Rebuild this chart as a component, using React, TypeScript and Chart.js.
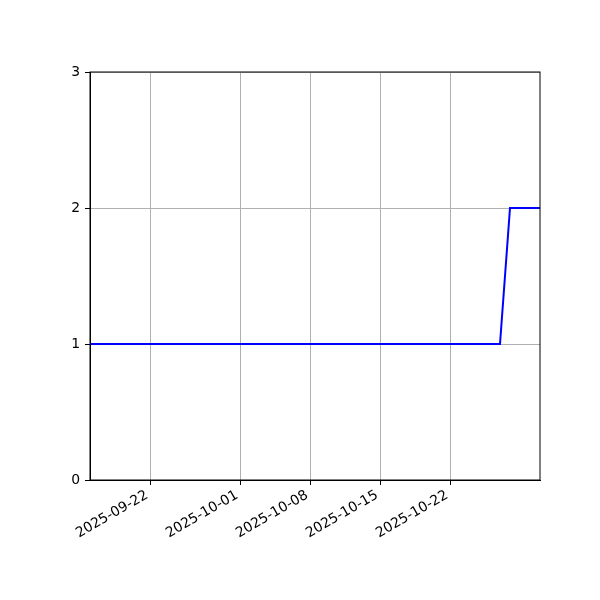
import { useEffect, useRef } from 'react'
import { Chart, registerables } from 'chart.js'

Chart.register(...registerables)

const dates = ['2025-09-16', '2025-10-27', '2025-10-28', '2025-10-31']
const values = [1, 1, 2, 2]
const tickDates = ['2025-09-22', '2025-10-01', '2025-10-08', '2025-10-15', '2025-10-22']
const yTicks = [0, 1, 2, 3]

const DAY = 86400000
const toDay = (s: string) => Date.parse(s + 'T00:00:00Z') / DAY
const fromDay = (d: number) => new Date(Math.round(d) * DAY).toISOString().slice(0, 10)

const frame = {
  id: 'frame',
  afterDraw(chart: Chart) {
    const { ctx, chartArea: a } = chart
    ctx.save()
    ctx.strokeStyle = '#000'
    ctx.lineWidth = 1
    ctx.strokeRect(a.left, a.top, a.right - a.left, a.bottom - a.top)
    ctx.restore()
  },
}

const App = () => {
  const canvas = useRef<HTMLCanvasElement>(null)

  useEffect(() => {
    document.body.style.margin = '0'
    if (!canvas.current) return
    const font = { family: 'DejaVu Sans', size: 13.9 }
    const chart = new Chart(canvas.current, {
      type: 'line',
      data: {
        datasets: [
          {
            data: dates.map((d, i) => ({ x: toDay(d), y: values[i] })),
            borderColor: '#0000ff',
            borderWidth: 2,
            pointRadius: 0,
            tension: 0,
          },
        ],
      },
      options: {
        responsive: false,
        animation: false,
        layout: { padding: { top: 72, right: 60, left: 0, bottom: 0 } },
        plugins: { legend: { display: false }, tooltip: { enabled: false } },
        scales: {
          x: {
            type: 'linear',
            min: toDay(dates[0]),
            max: toDay(dates[dates.length - 1]),
            afterBuildTicks: (s: any) => {
              s.ticks = tickDates.map((d) => ({ value: toDay(d) }))
            },
            afterFit: (s: any) => {
              s.height = 120
            },
            grid: { color: '#b0b0b0', lineWidth: 1, tickColor: '#000', tickLength: 5 },
            border: { color: '#000' },
            ticks: {
              color: '#000',
              font,
              minRotation: 30,
              maxRotation: 30,
              padding: 2,
              labelOffset: -3,
              autoSkip: false,
              callback: (v: any) => fromDay(Number(v)),
            },
          },
          y: {
            min: yTicks[0],
            max: yTicks[yTicks.length - 1],
            afterBuildTicks: (s: any) => {
              s.ticks = yTicks.map((v) => ({ value: v }))
            },
            afterFit: (s: any) => {
              s.width = 90
            },
            grid: { color: '#b0b0b0', lineWidth: 1, tickColor: '#000', tickLength: 5 },
            border: { color: '#000' },
            ticks: { color: '#000', font, padding: 5 },
          },
        },
      },
      plugins: [frame],
    })
    return () => {
      chart.destroy()
    }
  }, [])

  return <canvas ref={canvas} width={600} height={600} />
}

export default App
